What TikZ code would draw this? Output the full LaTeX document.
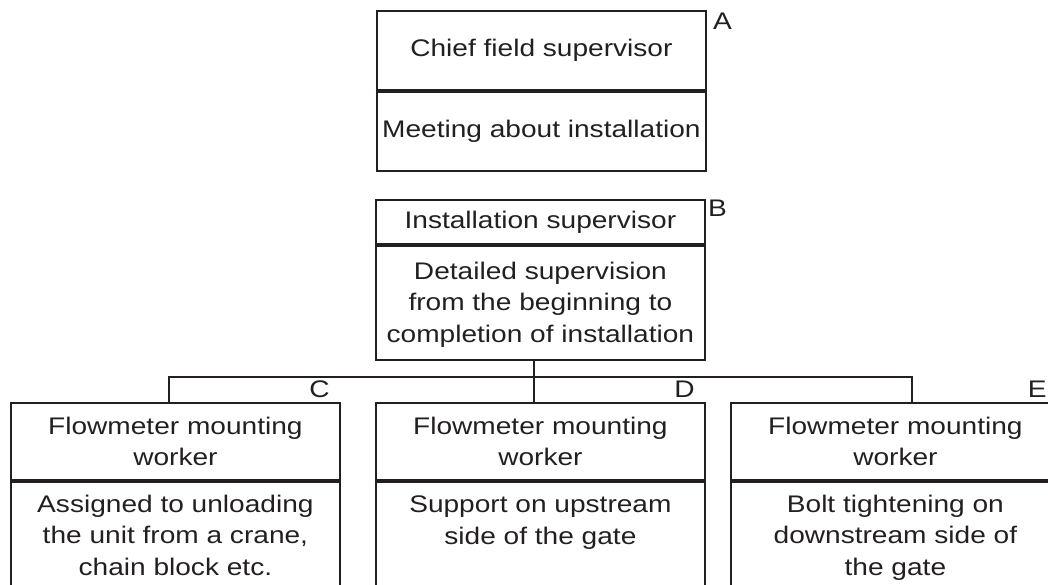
\documentclass[tikz,border=0pt]{standalone}
\usepackage{fontspec}
\setmainfont{Liberation Sans}[FakeStretch=1.17]
\usetikzlibrary{positioning}

\definecolor{inkgray}{RGB}{35,31,32}

\tikzset{
    box/.style={draw=inkgray, line width=1.8pt, rectangle, minimum width=329pt,
        inner sep=0pt, anchor=north west, align=center, text=inkgray,
        font=\fontsize{24}{31.5}\selectfont},
    txt/.style={inner sep=0pt, align=center, text=inkgray,
        font=\fontsize{24}{31.5}\selectfont},
    tag/.style={inner sep=0pt, text=inkgray, font=\fontsize{24}{31.5}\selectfont},
    wire/.style={draw=inkgray, line width=1.8pt}
}

\begin{document}
\begin{tikzpicture}[x=1pt, y=-1pt]
    \useasboundingbox (0,0) rectangle (1048,585);

% Chief field supervisor
    \node[box, minimum height=79pt] (a-head) at (376,10) {Chief field supervisor};
    \node[box, minimum height=79pt] (a-body) at (a-head.south west) {Meeting about installation};
    \node[tag, anchor=north west] (tag-a) at ([shift={(6,3)}]a-head.north east) {A};

% Installation supervisor
    \node[box, minimum height=44pt] (b-head) at (375,199) {Installation supervisor};
    \node[box, minimum height=114pt] (b-body) at (b-head.south west) {};
    \node[txt, below=17pt of b-body.north] (b-text) {Detailed supervision\\from the beginning to\\completion of installation};
    \node[tag, anchor=north west] (tag-b) at ([shift={(2,1)}]b-head.north east) {B};

% Flowmeter mounting workers
    \node[box, minimum height=77pt] (c-head) at (10,402) {Flowmeter mounting\\worker};
    \node[box, minimum height=105pt] (c-body) at (c-head.south west) {};
    \node[txt, below=14pt of c-body.north] (c-text) {Assigned to unloading\\the unit from a crane,\\chain block etc.};
    \node[tag, anchor=south east] (tag-c) at ([shift={(-11,-4)}]c-head.north east) {C};

    \node[box, minimum height=77pt] (d-head) at (375,402) {Flowmeter mounting\\worker};
    \node[box, minimum height=105pt] (d-body) at (d-head.south west) {};
    \node[txt, below=15pt of d-body.north] (d-text) {Support on upstream\\side of the gate};
    \node[tag, anchor=south east] (tag-d) at ([shift={(-11,-4)}]d-head.north east) {D};

    \node[box, minimum height=77pt] (e-head) at (730,402) {Flowmeter mounting\\worker};
    \node[box, minimum height=105pt] (e-body) at (e-head.south west) {};
    \node[txt, below=14pt of e-body.north] (e-text) {Bolt tightening on\\downstream side of\\the gate};
    \node[tag, anchor=south east] (tag-e) at ([shift={(-14,-4)}]e-head.north east) {E};

% Tree lines
    \coordinate (bus) at (534,377);
    \coordinate (c-drop) at (169,377);
    \coordinate (e-drop) at (912,377);
    \draw[wire] (bus |- b-body.south) -- (bus) -- (bus |- d-head.north);
    \draw[wire] (c-drop |- c-head.north) -- (c-drop) -- (e-drop) -- (e-drop |- e-head.north);

\end{tikzpicture}
\end{document}
